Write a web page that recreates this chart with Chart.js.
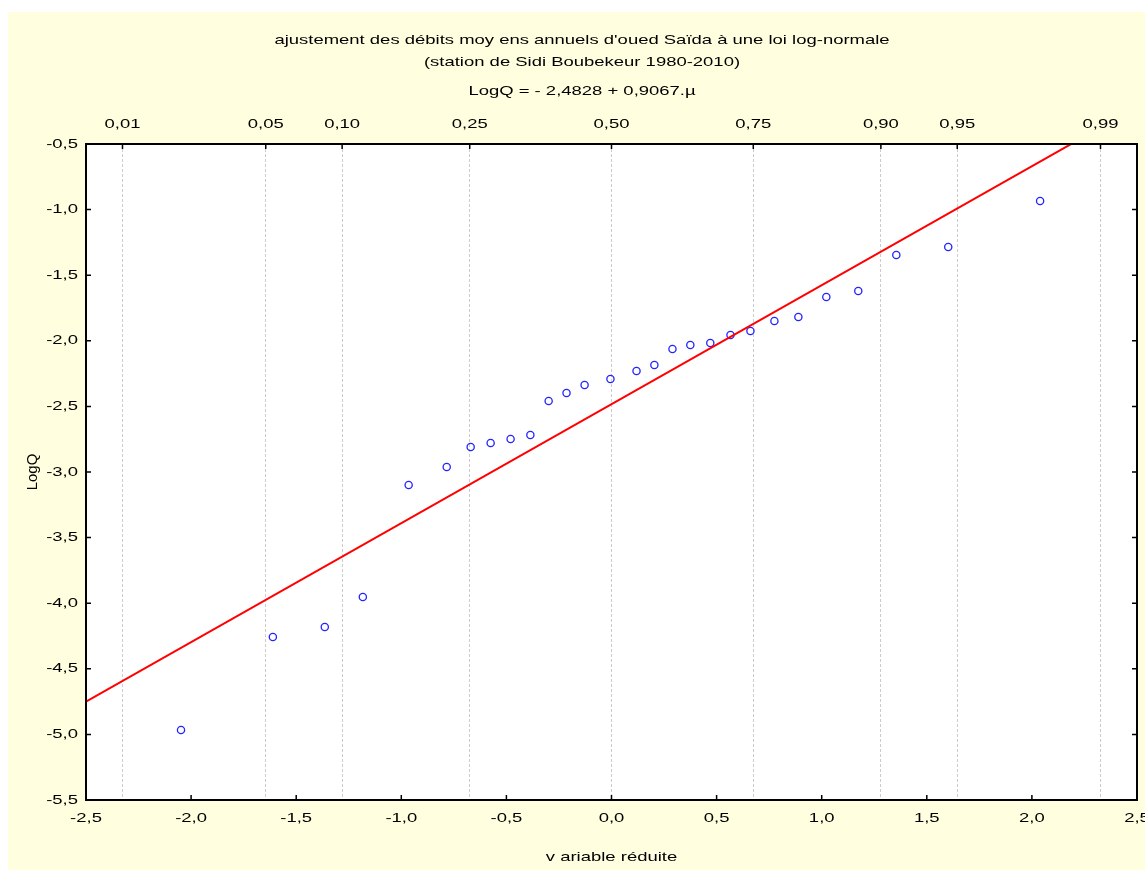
<!DOCTYPE html>
<html>
<head>
<meta charset="utf-8">
<script src="https://cdn.jsdelivr.net/npm/chart.js@4.4.1/dist/chart.umd.min.js"></script>
<style>
  html, body { margin: 0; padding: 0; background: #ffffff; }
  #c { display: block; }
</style>
</head>
<body>
<canvas id="c" width="1145" height="870"></canvas>
<script>
// ---------- data ----------
const titleLines = [
  "ajustement des débits moy ens annuels d'oued Saïda à une loi log-normale",
  "(station de Sidi Boubekeur 1980-2010)"
];
const subtitleText = "LogQ = - 2,4828 + 0,9067.µ";
const xTitle = "v ariable réduite";
const yTitle = "LogQ";

// reduced variable (normal quantile) of each observation
const muValues = [-2.048, -1.611, -1.364, -1.183, -0.965, -0.784, -0.670, -0.575, -0.480, -0.386,
                  -0.299, -0.214, -0.128, -0.005, 0.119, 0.204, 0.290, 0.375, 0.470, 0.566,
                  0.661, 0.775, 0.889, 1.022, 1.174, 1.355, 1.602, 2.039];
// LogQ of each observation
const logQValues = [-4.967, -4.258, -4.181, -3.953, -3.099, -2.962, -2.809, -2.779, -2.748, -2.718,
                    -2.459, -2.398, -2.337, -2.291, -2.230, -2.184, -2.062, -2.032, -2.017, -1.956,
                    -1.925, -1.849, -1.819, -1.666, -1.620, -1.346, -1.285, -0.934];

// fitted law: LogQ = intercept + slope * mu
const fitIntercept = -2.4828;
const fitSlope = 0.9067;
const fitRange = [-2.5, 2.5];

// top probability axis
const probValues = [0.01, 0.05, 0.10, 0.25, 0.50, 0.75, 0.90, 0.95, 0.99];
const probLabels = ["0,01", "0,05", "0,10", "0,25", "0,50", "0,75", "0,90", "0,95", "0,99"];

// ---------- helpers ----------
function normInv(p) {
  const a=[-3.969683028665376e+01,2.209460984245205e+02,-2.759285104469687e+02,1.383577518672690e+02,-3.066479806614716e+01,2.506628277459239e+00];
  const b=[-5.447609879822406e+01,1.615858368580409e+02,-1.556989798598866e+02,6.680131188771972e+01,-1.328068155288572e+01];
  const c=[-7.784894002430293e-03,-3.223964580411365e-01,-2.400758277161838e+00,-2.549732539343734e+00,4.374664141464968e+00,2.938163982698783e+00];
  const d=[7.784695709041462e-03,3.224671290700398e-01,2.445134137142996e+00,3.754408661907416e+00];
  const pl = 0.02425, ph = 1 - pl;
  let q, r;
  if (p < pl) { q = Math.sqrt(-2*Math.log(p)); return (((((c[0]*q+c[1])*q+c[2])*q+c[3])*q+c[4])*q+c[5])/((((d[0]*q+d[1])*q+d[2])*q+d[3])*q+1); }
  if (p > ph) { q = Math.sqrt(-2*Math.log(1-p)); return -(((((c[0]*q+c[1])*q+c[2])*q+c[3])*q+c[4])*q+c[5])/((((d[0]*q+d[1])*q+d[2])*q+d[3])*q+1); }
  q = p - 0.5; r = q*q;
  return (((((a[0]*r+a[1])*r+a[2])*r+a[3])*r+a[4])*r+a[5])*q/(((((b[0]*r+b[1])*r+b[2])*r+b[3])*r+b[4])*r+1);
}
const probZ = probValues.map(normInv);
const fmt = v => Number(v).toFixed(1).replace('.', ',');

const points = muValues.map((m, i) => ({ x: m, y: logQValues[i] }));
const fitLine = fitRange.map(m => ({ x: m, y: fitIntercept + fitSlope * m }));

// ---------- canvas (text drawn horizontally widened like the original) ----------
const canvas = document.getElementById('c');
const ctx = canvas.getContext('2d');
const SX = 1.42;
const origFill = CanvasRenderingContext2D.prototype.fillText;
ctx.fillText = function (t, x, y, mw) {
  const m = this.getTransform();
  if (Math.abs(m.b) > 1e-6) {
    return mw === undefined ? origFill.call(this, t, x, y) : origFill.call(this, t, x, y, mw);
  }
  this.save();
  this.translate(x, y);
  this.scale(SX, 1);
  if (mw === undefined) origFill.call(this, t, 0, 0); else origFill.call(this, t, 0, 0, mw / SX);
  this.restore();
};

const FONT = "'Liberation Sans', Arial, sans-serif";
const CREAM = '#ffffe0';

const framePlugin = {
  id: 'frame',
  beforeDraw(chart) {
    const c = chart.ctx, a = chart.chartArea;
    c.save();
    c.fillStyle = '#ffffff';
    c.fillRect(0, 0, chart.width, chart.height);
    c.fillStyle = CREAM;
    c.fillRect(8, 12, chart.width - 8, chart.height - 12);
    c.fillStyle = '#ffffff';
    c.fillRect(a.left, a.top, a.right - a.left, a.bottom - a.top);
    c.restore();
  },
  afterDraw(chart) {
    const c = chart.ctx, a = chart.chartArea;
    const sx = chart.scales.x, sx2 = chart.scales.x2, sy = chart.scales.y;
    const L = 5;
    c.save();
    c.strokeStyle = '#000000';
    c.lineWidth = 1.5;
    c.beginPath();
    sx.ticks.forEach(t => { const p = sx.getPixelForValue(t.value); c.moveTo(p, a.bottom); c.lineTo(p, a.bottom - L); });
    sx2.ticks.forEach(t => { const p = sx2.getPixelForValue(t.value); c.moveTo(p, a.top); c.lineTo(p, a.top + L); });
    sy.ticks.forEach(t => { const p = sy.getPixelForValue(t.value);
      c.moveTo(a.left, p); c.lineTo(a.left + L, p);
      c.moveTo(a.right, p); c.lineTo(a.right - L, p); });
    c.stroke();
    c.lineWidth = 2;
    c.strokeRect(a.left, a.top, a.right - a.left, a.bottom - a.top);
    c.restore();
  }
};

const noSidePadding = s => { s.paddingLeft = 0; s.paddingRight = 0; };

new Chart(ctx, {
  type: 'scatter',
  data: {
    datasets: [
      {
        type: 'line',
        label: 'ajustement',
        data: fitLine,
        borderColor: '#ff0000',
        borderWidth: 2,
        pointRadius: 0,
        fill: false,
        clip: 0,
        xAxisID: 'x', yAxisID: 'y'
      },
      {
        type: 'scatter',
        label: 'LogQ',
        data: points,
        pointStyle: 'circle',
        pointRadius: 3.6,
        borderWidth: 1.3,
        borderColor: '#2323ff',
        backgroundColor: 'rgba(0,0,0,0)',
        xAxisID: 'x', yAxisID: 'y'
      }
    ]
  },
  options: {
    responsive: false,
    animation: false,
    devicePixelRatio: 1,
    layout: { autoPadding: false, padding: { left: 19, right: 0, top: 0, bottom: 0 } },
    plugins: {
      legend: { display: false },
      tooltip: { enabled: false },
      title: {
        display: true,
        text: titleLines,
        color: '#000000',
        font: { family: FONT, size: 13, weight: 'normal', lineHeight: '22px' },
        padding: { top: 29, bottom: 7 }
      },
      subtitle: {
        display: true,
        text: subtitleText,
        color: '#000000',
        font: { family: FONT, size: 13, weight: 'normal', lineHeight: '22px' },
        padding: { top: 0, bottom: 0 }
      }
    },
    scales: {
      x: {
        type: 'linear',
        position: 'bottom',
        min: -2.5, max: 2.5,
        grid: { display: false, drawTicks: false },
        border: { display: false },
        ticks: {
          stepSize: 0.5, autoSkip: false, maxRotation: 0, padding: 11,
          color: '#000000', font: { family: FONT, size: 13 },
          callback: v => fmt(v)
        },
        title: {
          display: true, text: xTitle, color: '#000000',
          font: { family: FONT, size: 13 },
          padding: { top: 0, bottom: 5 }
        },
        afterFit: s => { s.height = 70; noSidePadding(s); }
      },
      x2: {
        type: 'linear',
        position: 'top',
        min: -2.5, max: 2.5,
        afterBuildTicks: s => { s.ticks = probZ.map(v => ({ value: v })); },
        grid: { display: true, drawTicks: false, drawOnChartArea: true, color: '#cccccc', lineWidth: 1 },
        border: { display: false, dash: [3, 2] },
        ticks: {
          autoSkip: false, maxRotation: 0, padding: 12,
          color: '#000000', font: { family: FONT, size: 13 },
          callback: (v, i) => probLabels[i]
        },
        afterFit: s => { s.height = 42; noSidePadding(s); }
      },
      y: {
        type: 'linear',
        position: 'left',
        min: -5.5, max: -0.5,
        grid: { display: false, drawTicks: false },
        border: { display: false },
        ticks: {
          stepSize: 0.5, autoSkip: false, padding: 8,
          color: '#000000', font: { family: FONT, size: 13 },
          callback: v => fmt(v)
        },
        title: {
          display: true, text: yTitle, color: '#000000',
          font: { family: FONT, size: 15 },
          padding: { top: 5, bottom: 0 }
        },
        afterFit: s => { s.width = 67; s.paddingTop = 0; s.paddingBottom = 0; }
      },
      yR: {
        type: 'linear',
        position: 'right',
        min: -5.5, max: -0.5,
        grid: { display: false, drawTicks: false },
        border: { display: false },
        ticks: { display: false },
        afterFit: s => { s.width = 8; s.paddingTop = 0; s.paddingBottom = 0; }
      }
    }
  },
  plugins: [framePlugin]
});
</script>
</body>
</html>
